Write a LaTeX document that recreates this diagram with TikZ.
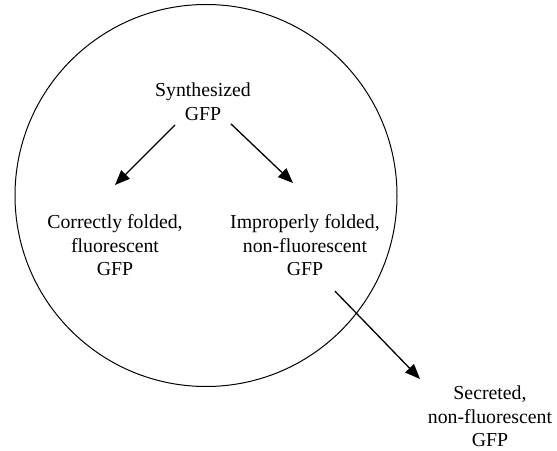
\documentclass[tikz,border=0pt]{standalone}
\usepackage{fontspec}
\setmainfont{Liberation Serif}
\usepackage{tikz}
\usetikzlibrary{arrows.meta,positioning}
\tikzset{
  stage/.style={align=center, inner sep=0pt, outer sep=0pt, anchor=north, font=\fontsize{19.8}{23.5}\selectfont},
  cellwall/.style={circle, draw, line width=1pt, minimum size=382pt, inner sep=0pt},
  line/.style={-{Triangle[length=15pt,width=12pt]}, line width=1.3pt}
}
\begin{document}
\begin{tikzpicture}[x=1pt, y=1pt]
  \useasboundingbox (0,0) rectangle (557,450);
  \node[cellwall] (cell) at (206,254.5) {};

  \node[stage] (synth) at (203,367) {Synthesized\\GFP};
  \node[stage] (correct) at (115,235) {Correctly folded,\\fluorescent\\GFP};
  \node[stage] (improper) at (305,235) {Improperly folded,\\non-fluorescent\\GFP};
  \node[stage] (secreted) at (490,64) {Secreted,\\non-fluorescent\\GFP};

  \draw[line] ([xshift=-28pt,yshift=-4.5pt]synth.south) -- ([yshift=30pt]correct.north);
  \draw[line] ([xshift=28pt,yshift=-3.5pt]synth.south) -- ([xshift=-12pt,yshift=32pt]improper.north);
  % leaves the cell
  \draw[line] ([xshift=30pt,yshift=-15pt]improper.south) -- ([xshift=-70pt,yshift=7pt]secreted.north);
\end{tikzpicture}
\end{document}
